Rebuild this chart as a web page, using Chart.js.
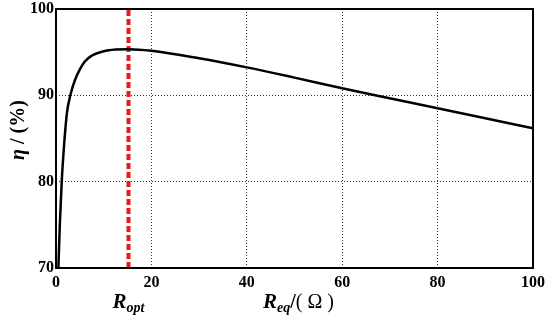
<!DOCTYPE html>
<html>
<head>
<meta charset="utf-8">
<script src="https://cdn.jsdelivr.net/npm/chart.js@4.4.0/dist/chart.umd.min.js"></script>
<style>
  html, body { margin: 0; padding: 0; background: #fff; }
  #wrap { width: 550px; height: 320px; }
</style>
</head>
<body>
<div id="wrap"><canvas id="chart1" width="550" height="320"></canvas></div>
<script>
// load resistance (ohm) and efficiency (%)
var reqValues = [0.5, 0.8, 1.2, 1.8, 2.3, 3.0, 4.0, 5.0, 6.0, 7.5, 10, 12.5, 15.2, 20, 30, 40, 50, 60, 66.9, 80, 90, 100];
var etaValues = [70, 75, 80, 85, 88, 90, 91.8, 93.0, 93.9, 94.6, 95.1, 95.3, 95.35, 95.17, 94.3, 93.24, 92.05, 90.81, 90.0, 88.5, 87.35, 86.18];
var ropt = [15.2, 15.2];
var roptEta = [70, 100];
var xTicks = [0, 20, 40, 60, 80, 100];
var yTicks = [70, 80, 90, 100];

var serif = '"Liberation Serif", "Times New Roman", serif';

var curve = reqValues.map(function (r, i) { return { x: r, y: etaValues[i] }; });
var optLine = ropt.map(function (r, i) { return { x: r, y: roptEta[i] }; });

var frameAndTitles = {
  id: 'frameAndTitles',
  afterDraw: function (chart) {
    var ctx = chart.ctx;
    var a = chart.chartArea;
    var xs = chart.scales.x;
    ctx.save();
    ctx.strokeStyle = '#000';
    ctx.lineWidth = 2;
    ctx.strokeRect(a.left, a.top, a.right - a.left, a.bottom - a.top);

    ctx.fillStyle = '#000';
    ctx.textBaseline = 'alphabetic';
    ctx.textAlign = 'left';

    // R_opt under the dashed line
    var px = xs.getPixelForValue(ropt[0]);
    ctx.font = 'italic bold 21px ' + serif;
    var w1 = ctx.measureText('R').width;
    ctx.font = 'italic bold 14px ' + serif;
    var w2 = ctx.measureText('opt').width;
    var sx = px - (w1 + w2) / 2;
    ctx.font = 'italic bold 21px ' + serif;
    ctx.fillText('R', sx, 308);
    ctx.font = 'italic bold 14px ' + serif;
    ctx.fillText('opt', sx + w1, 312);

    // R_eq/( Ω )
    var tx = 263;
    ctx.font = 'italic bold 21px ' + serif;
    ctx.fillText('R', tx, 308);
    tx += ctx.measureText('R').width;
    ctx.font = 'italic bold 14px ' + serif;
    ctx.fillText('eq', tx, 312);
    tx += ctx.measureText('eq').width;
    ctx.font = 'bold 20px ' + serif;
    ctx.fillText('/', tx, 308);
    tx += ctx.measureText('/').width;
    ctx.font = '20px ' + serif;
    ctx.fillText('( \u03A9 )', tx, 308);

    // eta / (%)
    ctx.translate(24, 130);
    ctx.rotate(-Math.PI / 2);
    ctx.font = 'italic bold 20px ' + serif;
    var e1 = ctx.measureText('\u03B7').width;
    ctx.font = 'bold 20px ' + serif;
    var e2 = ctx.measureText(' / (%)').width;
    var ex = -(e1 + e2) / 2;
    ctx.font = 'italic bold 20px ' + serif;
    ctx.fillText('\u03B7', ex, 0);
    ctx.font = 'bold 20px ' + serif;
    ctx.fillText(' / (%)', ex + e1, 0);
    ctx.restore();
  }
};

var chart1 = new Chart(document.querySelector('#chart1'), {
  type: 'line',
  data: {
    datasets: [{
      data: curve,
      borderColor: '#000',
      borderWidth: 2.5,
      pointRadius: 0,
      cubicInterpolationMode: 'monotone',
      fill: false
    }, {
      data: optLine,
      borderColor: '#e8191c',
      borderWidth: 4,
      borderDash: [6, 3],
      pointRadius: 0,
      fill: false
    }]
  },
  options: {
    responsive: false,
    animation: false,
    layout: { padding: { left: 0, top: 9, right: 17, bottom: 0 } },
    plugins: {
      legend: { display: false },
      tooltip: { enabled: false }
    },
    scales: {
      x: {
        type: 'linear',
        min: 0,
        max: 100,
        afterBuildTicks: function (s) { s.ticks = xTicks.map(function (v) { return { value: v }; }); },
        afterFit: function (s) { s.height = 52; s.paddingLeft = 0; s.paddingRight = 0; },
        grid: {
          color: function (c) { return (c.tick.value === 0 || c.tick.value === 100) ? 'rgba(0,0,0,0)' : '#333'; },
          lineWidth: 1,
          drawTicks: false
        },
        border: { display: false, dash: [1, 2] },
        ticks: {
          color: '#000',
          padding: 5,
          maxRotation: 0,
          font: { family: serif, size: 16, weight: 'bold' }
        }
      },
      y: {
        min: 70,
        max: 100,
        afterBuildTicks: function (s) { s.ticks = yTicks.map(function (v) { return { value: v }; }); },
        afterFit: function (s) { s.width = 56; s.paddingTop = 0; s.paddingBottom = 0; },
        grid: {
          color: function (c) { return (c.tick.value === 70 || c.tick.value === 100) ? 'rgba(0,0,0,0)' : '#333'; },
          lineWidth: 1,
          drawTicks: false
        },
        border: { display: false, dash: [1, 2] },
        ticks: {
          color: '#000',
          padding: 2,
          font: { family: serif, size: 16, weight: 'bold' }
        }
      }
    }
  },
  plugins: [frameAndTitles]
});
</script>
</body>
</html>
